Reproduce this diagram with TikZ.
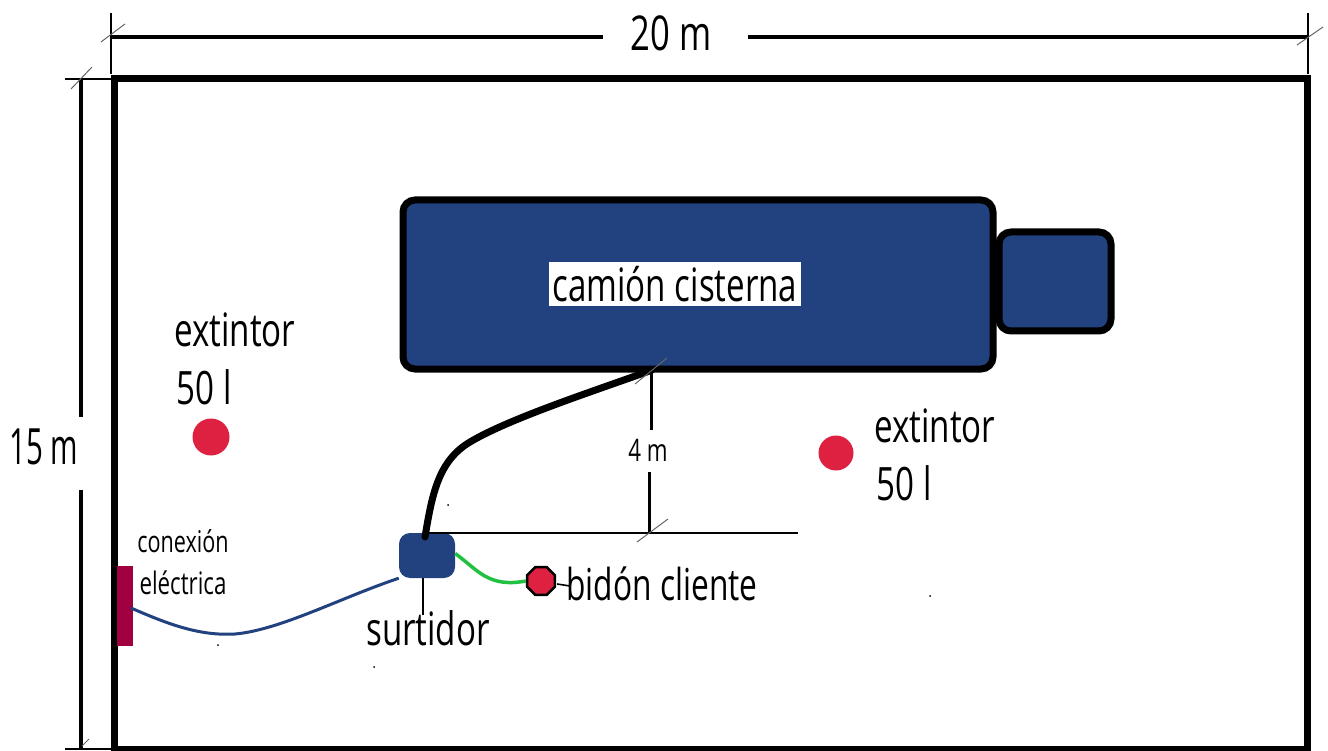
\documentclass[tikz,border=0pt]{standalone}
\usepackage{fontspec}
\setmainfont[FakeStretch=0.72]{Open Sans}
\usetikzlibrary{positioning, shapes.geometric}

\definecolor{truckblue}{HTML}{21417F}
\definecolor{extred}{HTML}{DE2141}
\definecolor{plugred}{HTML}{A00040}
\definecolor{hosegreen}{HTML}{22C040}

\tikzset{
    lbl/.style={inner sep=0pt, font=\fontsize{#1}{#1}\selectfont},
    lbl/.default=46,
    tank/.style={draw=black, line width=7pt, fill=truckblue, rounded corners=12pt, inner sep=0pt},
    dimline/.style={line width=4pt},
    extline/.style={line width=2.5pt},
    thinline/.style={line width=1.6pt},
    tick/.style={line width=1pt, black!60}
}

\begin{document}
\begin{tikzpicture}[x=1pt, y=-1pt]
    \useasboundingbox (0,0) rectangle (1328,751);

    % Yard outline
    \coordinate (tl) at (114,79);
    \coordinate (tr) at (1307,79);
    \coordinate (bl) at (114,749);
    \coordinate (br) at (1307,749);
    \draw [line width=7pt] (tl) -- (tr) -- (br) -- (bl) -- cycle;

    % Width dimension
    \node (wtext) [lbl=48] at (671,33) {20 m};
    \coordinate (wa) at (111,37);
    \coordinate (wb) at (1308,37);
    \draw [dimline] (wa) -- (603,37);
    \draw [dimline] (748,37) -- (wb);
    \draw [extline] (111,13) -- (111,74);
    \draw [extline] (1308,13) -- (1308,74);
    \draw [tick] (101,42) -- (125,24);
    \draw [tick] (1297,45) -- (1323,27);

    % Height dimension
    \node (htext) [lbl=50] at (44,447) {\scalebox{0.82}[1]{15 m}};
    \draw [dimline] (81,79) -- (81,417);
    \draw [dimline] (81,490) -- (81,749);
    \draw [extline] (65,79) -- (113,79);
    \draw [extline] (65,749) -- (113,749);
    \draw [tick] (71,89) -- (92,67);
    \draw [tick] (82,746) -- (89,739);

    % Truck
    \node (tank) [tank, minimum width=590pt, minimum height=169pt] at (698,284.5) {};
    \node (cab) [tank, minimum width=112pt, minimum height=99pt] at (1055,281.5) {};
    \node (tname) [lbl, fill=white, minimum width=252pt, minimum height=44pt] at (675,284) {camión cisterna};

    % Pump and hoses
    \coordinate (tankout) at (652,370);
    \node (pump) [fill=truckblue, rounded corners=11pt, minimum width=56pt, minimum height=45pt, inner sep=0pt] at (427,555.5) {};
    \node (can) [draw=black, line width=2.5pt, fill=extred, regular polygon, regular polygon sides=8, minimum size=30pt, inner sep=0pt] at (541,581) {};
    \coordinate (hosein) at (425,537);
    \draw [line width=7pt, line cap=round] (hosein) .. controls (432,495) and (438,461) .. (470,442) .. controls (510,418) and (600,389) .. (tankout);
    \draw [line width=3.5pt, hosegreen] (pump.east) ++(0,-2) .. controls (478,570) and (488,588) .. (can.west);

    % Electric connection
    \node (plug) [fill=plugred, minimum width=16pt, minimum height=80pt, inner sep=0pt] at (125,606) {};
    \draw [line width=3pt, truckblue] (plug.center) ++(6,2) .. controls (170,625) and (200,636) .. (235,634) .. controls (280,630) and (340,598) .. (pump.south west);
    \node (context) [lbl=30] at (183,541) {conexión};
    \node (eletext) [lbl=31] at (183,583) {eléctrica};

    % Extinguishers
    \node (extone) [circle, fill=extred, minimum size=37pt, inner sep=0pt] at (211,437) {};
    \node (exttwo) [circle, fill=extred, minimum size=35pt, inner sep=0pt] at (836,453) {};
    \node (exttexta) [lbl] at (235,330) {extintor};
    \node (exttextb) [lbl] at (204,387) {50 l};
    \node (exttextc) [lbl] at (935,426) {extintor};
    \node (exttextd) [lbl] at (904,483) {50 l};

    % Labels of pump and can
    \node (ptext) [lbl] at (428,628) {surtidor};
    \node (ctext) [lbl=44] at (662,584) {bidón cliente};
    \draw [thinline] (423,578) -- (423,615);
    \draw [thinline] (can.east) ++(1,3) -- (570,586);

    % Distance tank to pump
    \coordinate (da) at (651,369);
    \coordinate (db) at (649,533);
    \node (dtext) [lbl=31] at (648,450) {4 m};
    \draw [thinline] (425,533) -- (798,533);
    \draw [line width=3pt] (da) -- (651,430);
    \draw [line width=3pt] (649,472) -- (db);
    \draw [tick] (635,384) -- (667,358);
    \draw [tick] (637,542) -- (668,519);

    % Specks
    \foreach \sx/\sy in {218/645, 374/667, 448/505, 930/596}
        \fill (\sx,\sy) circle (1pt);
\end{tikzpicture}
\end{document}
